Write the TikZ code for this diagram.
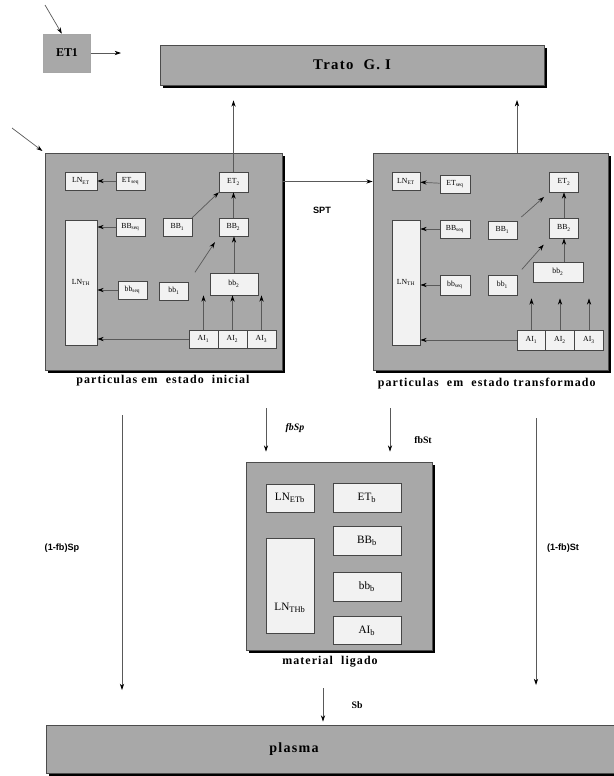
\documentclass[tikz,border=0pt]{standalone}
\usepackage{fontspec}
\setmainfont{Liberation Serif}
\newfontfamily\sansf{Liberation Sans}
\newfontfamily\espaco[LetterSpace=9]{Liberation Serif}
\usetikzlibrary{arrows.meta,positioning,shadows}
\definecolor{cinza}{HTML}{A8A8A8}
\definecolor{claro}{HTML}{F2F2F2}

\begin{document}
\begin{tikzpicture}[
    x=0.025cm, y=-0.025cm,
    regiao/.style={draw=gray!60!black, fill=cinza, inner sep=0pt,
                   drop shadow={shadow xshift=2.2pt, shadow yshift=-2.2pt,
                                fill=black, opacity=1}},
    comp/.style={draw=gray!55!black, fill=claro, inner sep=0pt,
                 minimum width=0.72cm, minimum height=0.45cm,
                 font=\fontsize{5.5}{6}\selectfont},
    compb/.style={comp, minimum width=1.7cm, minimum height=0.72cm,
                  font=\fontsize{8}{9}\selectfont},
    seta/.style={-{Stealth[length=4.5pt,width=3pt,color=black]},
                 draw=gray!70!black, line width=0.5pt},
    rotulo/.style={font=\espaco\bfseries\fontsize{8.5}{10}\selectfont},
    taxa/.style={font=\sansf\bfseries\fontsize{6.5}{8}\selectfont},
    fluxo/.style={font=\bfseries\fontsize{7}{8}\selectfont}
  ]
    \useasboundingbox (0,0) rectangle (613,776);

    % Entrada e trato G.I
    \node[draw=gray!70, fill=cinza, minimum width=1.175cm, minimum height=0.95cm,
          font=\bfseries\fontsize{8.5}{9}\selectfont] (et1) at (67,53) {ET1};
    \node[regiao, minimum width=9.6cm, minimum height=1cm,
          font=\espaco\bfseries\fontsize{10.5}{12}\selectfont] (gi) at (352,65) {Trato\ \ G. I};

    \coordinate (ent1) at (45,5);
    \coordinate (ent2) at (12,128);
    \coordinate (giin) at (121,53);
    \coordinate (git)  at (517,100);
    \draw[seta] (ent1) -- (et1.105);
    \draw[seta] (et1) -- (giin);

    % Particulas em estado inicial
    \node[regiao, minimum width=5.925cm, minimum height=5.425cm] (ini) at (163.5,261.5) {};
    \node[rotulo] (capi) at (163,381) {particulas em\ \ estado\ \ inicial};
    \node[comp, minimum width=0.8cm] (LNETi) at (81,181) {LN\textsubscript{ET}};
    \node[comp] (ETseqi) at (130.5,181) {ET\textsubscript{seq}};
    \node[comp, minimum height=0.5cm] (ET2i) at (233.5,182) {ET\textsubscript{2}};
    \node[comp] (BBseqi) at (130.5,227) {BB\textsubscript{seq}};
    \node[comp] (BB1i) at (177.5,227) {BB\textsubscript{1}};
    \node[comp] (BB2i) at (233.5,227) {BB\textsubscript{2}};
    \node[comp, minimum width=0.8cm, minimum height=3.125cm] (LNTHi) at (81,282.5) {LN\textsubscript{TH}};
    \node[comp] (bbseqi) at (132.5,290) {bb\textsubscript{seq}};
    \node[comp] (bb1i) at (174,291) {bb\textsubscript{1}};
    \node[comp, minimum width=1.2cm, minimum height=0.55cm] (bb2i) at (234,284) {bb\textsubscript{2}};
    \node[comp] (AI1i) at (203.5,339) {AI\textsubscript{1}};
    \node[comp] (AI2i) at (232.5,339) {AI\textsubscript{2}};
    \node[comp] (AI3i) at (261.5,339) {AI\textsubscript{3}};

    \draw[seta, shorten >=2pt] (ent2) -- (ini.north west);
    \draw[seta, shorten >=0.375cm] (ET2i.north) -- (ET2i.north |- gi.south);
    \draw[seta] (ETseqi) -- (LNETi);
    \draw[seta] (BBseqi.west) -- (BBseqi.west -| LNTHi.east);
    \draw[seta] (bbseqi.west) -- (bbseqi.west -| LNTHi.east);
    \draw[seta] (AI1i.west) -- (AI1i.west -| LNTHi.east);
    \draw[seta] (BB1i.north east) -- (ET2i.south west);
    \draw[seta] (BB2i) -- (ET2i);
    \draw[seta, shorten <=8pt, shorten >=5pt] (bb1i.north east) -- (BB2i.south west);
    \draw[seta] (bb2i.north) -- (bb2i.north |- BB2i.south);
    \foreach \a in {AI1i,AI2i,AI3i}
      \draw[seta] (\a.north) -- (\a.north |- bb2i.south);

    % Particulas em estado transformado
    \node[regiao, minimum width=5.875cm, minimum height=5.425cm] (tra) at (490.5,261.5) {};
    \node[rotulo, anchor=west] (capt) at (373,384) {particulas\ \ em\ \ estado transformado};
    \node[comp, minimum width=0.7cm] (LNETt) at (406,181.5) {LN\textsubscript{ET}};
    \node[comp, minimum width=0.75cm] (ETseqt) at (455,184) {ET\textsubscript{seq}};
    \node[comp, minimum height=0.5cm] (ET2t) at (564,182) {ET\textsubscript{2}};
    \node[comp, minimum width=0.75cm] (BBseqt) at (455,229) {BB\textsubscript{seq}};
    \node[comp] (BB1t) at (502.5,230) {BB\textsubscript{1}};
    \node[comp, minimum height=0.5cm] (BB2t) at (564,228) {BB\textsubscript{2}};
    \node[comp, minimum width=0.7cm, minimum height=3.125cm] (LNTHt) at (406,282.5) {LN\textsubscript{TH}};
    \node[comp, minimum width=0.75cm, minimum height=0.5cm] (bbseqt) at (455,285) {bb\textsubscript{seq}};
    \node[comp, minimum height=0.5cm] (bb1t) at (502.5,285) {bb\textsubscript{1}};
    \node[comp, minimum width=1.25cm, minimum height=0.5cm] (bb2t) at (558,272) {bb\textsubscript{2}};
    \node[comp, minimum height=0.5cm] (AI1t) at (531.5,340) {AI\textsubscript{1}};
    \node[comp, minimum height=0.5cm] (AI2t) at (560,340) {AI\textsubscript{2}};
    \node[comp, minimum height=0.5cm] (AI3t) at (589,340) {AI\textsubscript{3}};

    \draw[seta] (git |- tra.north) -- (git);
    \draw[seta] (ETseqt) -- (LNETt);
    \draw[seta] (BBseqt.west) -- (BBseqt.west -| LNTHt.east);
    \draw[seta] (bbseqt.west) -- (bbseqt.west -| LNTHt.east);
    \draw[seta] (AI1t.west) -- (AI1t.west -| LNTHt.east);
    \draw[seta, shorten <=4pt, shorten >=5pt] (BB1t.north east) -- (ET2t.south west);
    \draw[seta] (BB2t) -- (ET2t);
    \draw[seta, shorten <=5pt, shorten >=6pt] (bb1t.north east) -- (BB2t.south west);
    \draw[seta] (BB2t.south |- bb2t.north) -- (BB2t.south);
    \foreach \a in {AI1t,AI2t,AI3t}
      \draw[seta, shorten >=0.4cm] (\a.north) -- (\a.north |- bb2t.south);

    % Transformacao
    \draw[seta] ([yshift=-0.72cm]ini.north east) -- ([yshift=-0.72cm]tra.north west);
    \node[taxa] (spt) at (322,210) {SPT};

    % Material ligado
    \node[regiao, minimum width=4.65cm, minimum height=4.7cm] (lig) at (339,556) {};
    \node[rotulo] (capl) at (330,662) {material\ \ ligado};
    \node[compb, minimum width=1.2cm, minimum height=0.7cm] (LNETb) at (290,498) {LN\textsubscript{ETb}};
    \node[compb] (ETb) at (367,497.5) {ET\textsubscript{b}};
    \node[compb] (BBb) at (367,541) {BB\textsubscript{b}};
    \node[compb] (bbb) at (367,587) {bb\textsubscript{b}};
    \node[compb, minimum height=0.7cm] (AIb) at (367,630.5) {AI\textsubscript{b}};
    \node[compb, minimum width=1.2cm, minimum height=2.375cm,
          label={[font=\fontsize{8}{9}\selectfont, yshift=-0.55cm]center:LN\textsubscript{THb}}]
          (LNTHb) at (290,585.5) {};

    \coordinate (fp) at (266,408);
    \coordinate (ft) at (390,408);
    \draw[seta, shorten >=0.25cm] (fp) -- (fp |- lig.north);
    \draw[seta, shorten >=0.25cm] (ft) -- (ft |- lig.north);
    \node[fluxo] (tfp) at (295,428) {\textit{fbSp}};
    \node[fluxo] (tft) at (423,440) {fbSt};

    % Plasma
    \node[regiao, minimum width=14.5cm, minimum height=1.2cm] (plasma) at (336,749) {};
    \node[font=\espaco\bfseries\fontsize{10}{11}\selectfont] (tplasma) at ([xshift=-1.05cm]plasma.center) {plasma};

    \coordinate (pl) at (122,690);
    \coordinate (pt) at (536,685);
    \coordinate (sb) at (323,688);
    \draw[seta, shorten <=0.6cm] (pl |- capi.south) -- (pl);
    \draw[seta, shorten <=0.6cm] (pt |- capt.south) -- (pt);
    \draw[seta, shorten >=0.08cm] (sb) -- (sb |- plasma.north);
    \node[taxa] (tpl) at (62,548) {(1-fb)Sp};
    \node[taxa] (tpt) at (563,548) {(1-fb)St};
    \node[fluxo] (tsb) at (357,705) {Sb};
\end{tikzpicture}
\end{document}
